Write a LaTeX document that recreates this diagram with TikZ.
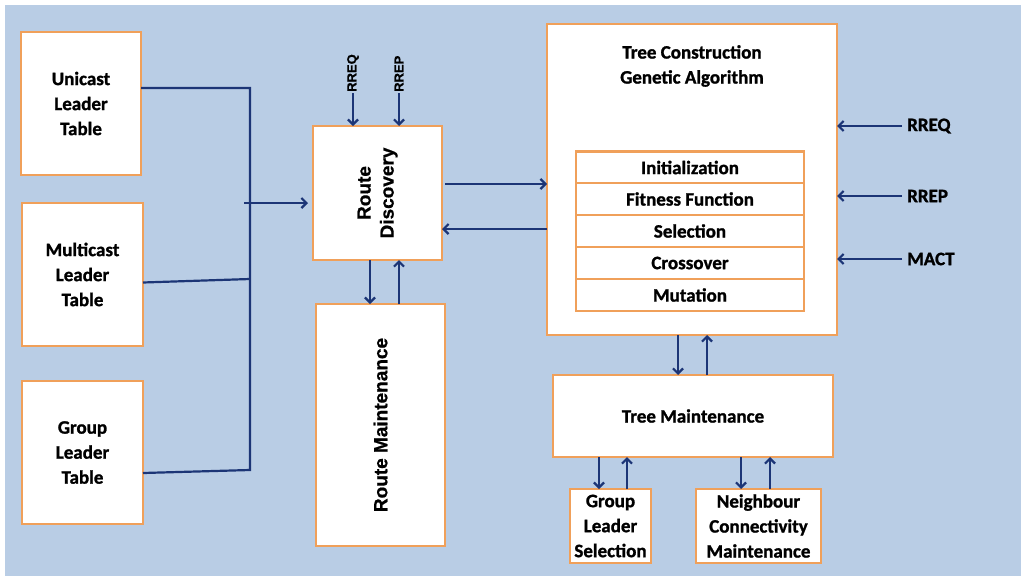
\documentclass[tikz,border=0pt]{standalone}
\usepackage{fontspec}
\usepackage{graphicx}
\setmainfont{Carlito}[BoldFeatures={FakeBold=1.2}]
\newfontfamily\arialf{Liberation Sans}[BoldFeatures={FakeBold=0.8}]
\newcommand\rotfont{\arialf\bfseries\fontsize{19}{23}\selectfont}
\usetikzlibrary{arrows.meta}
\definecolor{bg}{HTML}{B9CDE5}
\definecolor{bord}{HTML}{F0A05A}
\definecolor{arr}{HTML}{1C3576}
\begin{document}
\begin{tikzpicture}[x=1pt,y=-1pt,
  box/.style={draw=bord, line width=2.5pt, fill=white, inner sep=0pt, outer sep=0pt,
    align=center, font=\fontsize{19}{25}\selectfont\bfseries},
  rowbox/.style={box, minimum width=228pt, minimum height=32pt, font=\fontsize{19}{22}\selectfont\bfseries},
  title/.style={align=center, font=\fontsize{19}{25}\selectfont\bfseries, inner sep=0pt},
  rlab/.style={font=\fontsize{19}{22}\selectfont\bfseries, inner sep=1pt, anchor=west},
  tlab/.style={font=\arialf\bfseries\fontsize{13}{15}\selectfont, inner sep=1pt, rotate=90, anchor=west},
  conn/.style={draw=arr, line width=2.2pt},
  arrow/.style={conn, -{Straight Barb[length=5pt,width=10pt]}}
]
\fill[bg] (5,5) rectangle (1021,576);
\useasboundingbox (0,0) rectangle (1021,576);

% left tables
\node[box, minimum width=120pt, minimum height=143pt] (uni) at (81,103.5) {Unicast\\Leader\\Table};
\node[box, minimum width=121pt, minimum height=143pt] (multi) at (82.5,274.5) {Multicast\\Leader\\Table};
\node[box, minimum width=121pt, minimum height=143pt] (group) at (82.5,452.5) {Group\\Leader\\Table};

% route boxes
\node[box, minimum width=129pt, minimum height=134pt] (rd) at (377.5,193)
  {\rotatebox{90}{\rotfont\begin{tabular}{@{}c@{}}Route\\Discovery\end{tabular}}};
\node[box, minimum width=129pt, minimum height=242pt] (rm) at (380.5,425)
  {\rotatebox{90}{\rotfont Route Maintenance}};

% tree construction
\node[box, minimum width=290pt, minimum height=311pt] (tc) at (692,179.5) {};
\node[title] (tct) at (692,66) {Tree Construction\\Genetic Algorithm};
\node[rowbox] (r1) at (690,167.5) {Initialization};
\node[rowbox] (r2) at (690,199) {Fitness Function};
\node[rowbox] (r3) at (690,231) {Selection};
\node[rowbox] (r4) at (690,263) {Crossover};
\node[rowbox] (r5) at (690,295) {Mutation};

% tree maintenance
\node[box, minimum width=280pt, minimum height=82pt] (tm) at (693,416) {Tree Maintenance};
\node[box, minimum width=81pt, minimum height=74pt] (gls) at (610.5,526) {Group\\Leader\\Selection};
\node[box, minimum width=125pt, minimum height=74pt] (ncm) at (758.5,526) {Neighbour\\Connectivity\\Maintenance};

% top labels
\node[tlab] (q1) at (353,93) {RREQ};
\node[tlab] (q2) at (399,93) {RREP};
\draw[arrow] (q1.west) -- (q1.west |- rd.north);
\draw[arrow] (q2.west) -- (q2.west |- rd.north);

% right labels
\node[rlab] (s1) at (906,126) {RREQ};
\node[rlab] (s2) at (906,196) {RREP};
\node[rlab] (s3) at (906,259) {MACT};
\draw[arrow, shorten <=4pt] (s1.west) -- (s1.west -| tc.east);
\draw[arrow, shorten <=4pt] (s2.west) -- (s2.west -| tc.east);
\draw[arrow, shorten <=4pt] (s3.west) -- (s3.west -| tc.east);

% bus
\coordinate (bt) at (250,88);
\coordinate (bb) at (250,470);
\coordinate (bm) at (250,279);
\coordinate (ba) at (244,203);
\path ([yshift=-20.5pt]group.east) coordinate (gs);
\path ([yshift=-8pt]multi.east) coordinate (ms);
\draw[conn, line join=miter] (uni.east |- bt) -- (bt) -- (bb) -- (gs);
\draw[conn] (ms) -- (bm);
\draw[arrow, shorten >=5pt] (ba) -- (ba -| rd.west);

% RD <-> TC
\path ([yshift=9pt]rd.east) coordinate (a1);
\path ([yshift=-36pt]rd.east) coordinate (a2);
\draw[arrow, shorten <=3pt] (a1) -- (a1 -| tc.west);
\draw[arrow] (a2 -| tc.west) -- (a2);

% RD <-> RM
\path ([xshift=-7.5pt]rd.south) coordinate (d1);
\path ([xshift=21.5pt]rd.south) coordinate (u1);
\draw[arrow] (d1) -- (d1 |- rm.north);
\draw[arrow] (u1 |- rm.north) -- (u1);

% TC <-> TM
\path ([xshift=-14pt]tc.south) coordinate (d2);
\path ([xshift=15pt]tc.south) coordinate (u2);
\draw[arrow] (d2) -- (d2 |- tm.north);
\draw[arrow] (u2 |- tm.north) -- (u2);

% TM <-> GLS
\path ([xshift=-11.5pt]gls.north) coordinate (d3);
\path ([xshift=16.5pt]gls.north) coordinate (u3);
\draw[arrow] (d3 |- tm.south) -- (d3);
\draw[arrow] (u3) -- (u3 |- tm.south);

% TM <-> NCM
\path ([xshift=-17.5pt]ncm.north) coordinate (d4);
\path ([xshift=11.5pt]ncm.north) coordinate (u4);
\draw[arrow] (d4 |- tm.south) -- (d4);
\draw[arrow] (u4) -- (u4 |- tm.south);
\end{tikzpicture}
\end{document}
